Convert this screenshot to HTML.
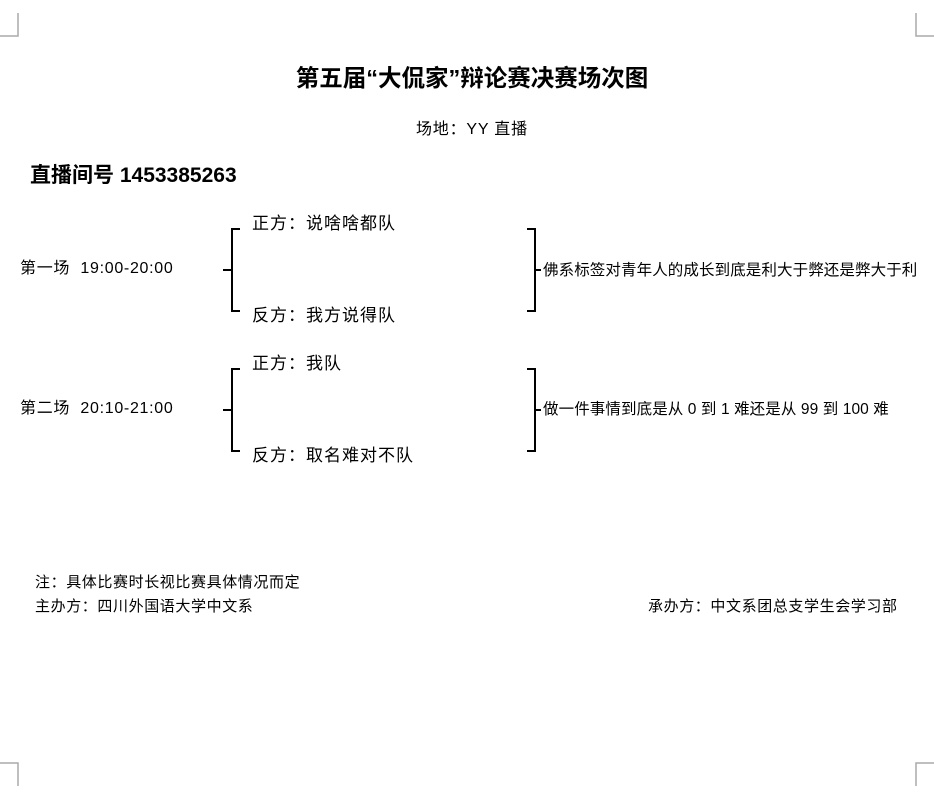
<!DOCTYPE html>
<html><head><meta charset="utf-8"><style>
html,body{margin:0;padding:0;background:#fff;}
body{width:934px;height:800px;position:relative;overflow:hidden;font-family:"Liberation Sans","Noto Sans CJK SC",sans-serif;color:#000;}
.t{position:absolute;white-space:nowrap;line-height:1;}
</style></head><body>
<svg width="934" height="800" style="position:absolute;left:0;top:0">
<g stroke="#aaa" stroke-width="1.5" fill="none">
<path d="M18 13V36H0"/><path d="M18 786V763H0"/>
<path d="M916 13V36H934"/><path d="M916 786V763H934"/>
</g>
<g stroke="#000" stroke-width="2" fill="none">
<path d="M240 229H232V311H240M223 270H232"/>
<path d="M527 229H535V311H527M535 270H541"/>
<path d="M240 369H232V451H240M223 410H232"/>
<path d="M527 369H535V451H527M535 410H541"/>
</g>
</svg>
<div class="t" style="left:0;width:944px;text-align:center;top:67px;font-size:23.5px;font-weight:bold">第五届“大侃家”辩论赛决赛场次图</div>
<div class="t" style="left:416px;top:122px;font-size:16px;letter-spacing:0.8px">场地：YY 直播</div>
<div class="t" style="left:30px;top:165px;font-size:21px;font-weight:bold">直播间号 1453385263</div>
<div class="t" style="left:20px;top:261px;font-size:16px;letter-spacing:0.7px">第一场&nbsp; 19:00-20:00</div>
<div class="t" style="left:252px;top:215px;font-size:17px;letter-spacing:1px">正方：说啥啥都队</div>
<div class="t" style="left:252px;top:307px;font-size:17px;letter-spacing:1px">反方：我方说得队</div>
<div class="t" style="left:543px;top:263px;font-size:15.5px;letter-spacing:0.1px">佛系标签对青年人的成长到底是利大于弊还是弊大于利</div>
<div class="t" style="left:20px;top:401px;font-size:16px;letter-spacing:0.7px">第二场&nbsp; 20:10-21:00</div>
<div class="t" style="left:252px;top:355px;font-size:17px;letter-spacing:1px">正方：我队</div>
<div class="t" style="left:252px;top:447px;font-size:17px;letter-spacing:1px">反方：取名难对不队</div>
<div class="t" style="left:543px;top:402px;font-size:15.5px;letter-spacing:0.1px">做一件事情到底是从 0 到 1 难还是从 99 到 100 难</div>
<div class="t" style="left:35px;top:575px;font-size:15px;letter-spacing:0.6px">注：具体比赛时长视比赛具体情况而定</div>
<div class="t" style="left:35px;top:599px;font-size:15px;letter-spacing:0.6px">主办方：四川外国语大学中文系</div>
<div class="t" style="left:648px;top:599px;font-size:15px;letter-spacing:0.6px">承办方：中文系团总支学生会学习部</div>
</body></html>
